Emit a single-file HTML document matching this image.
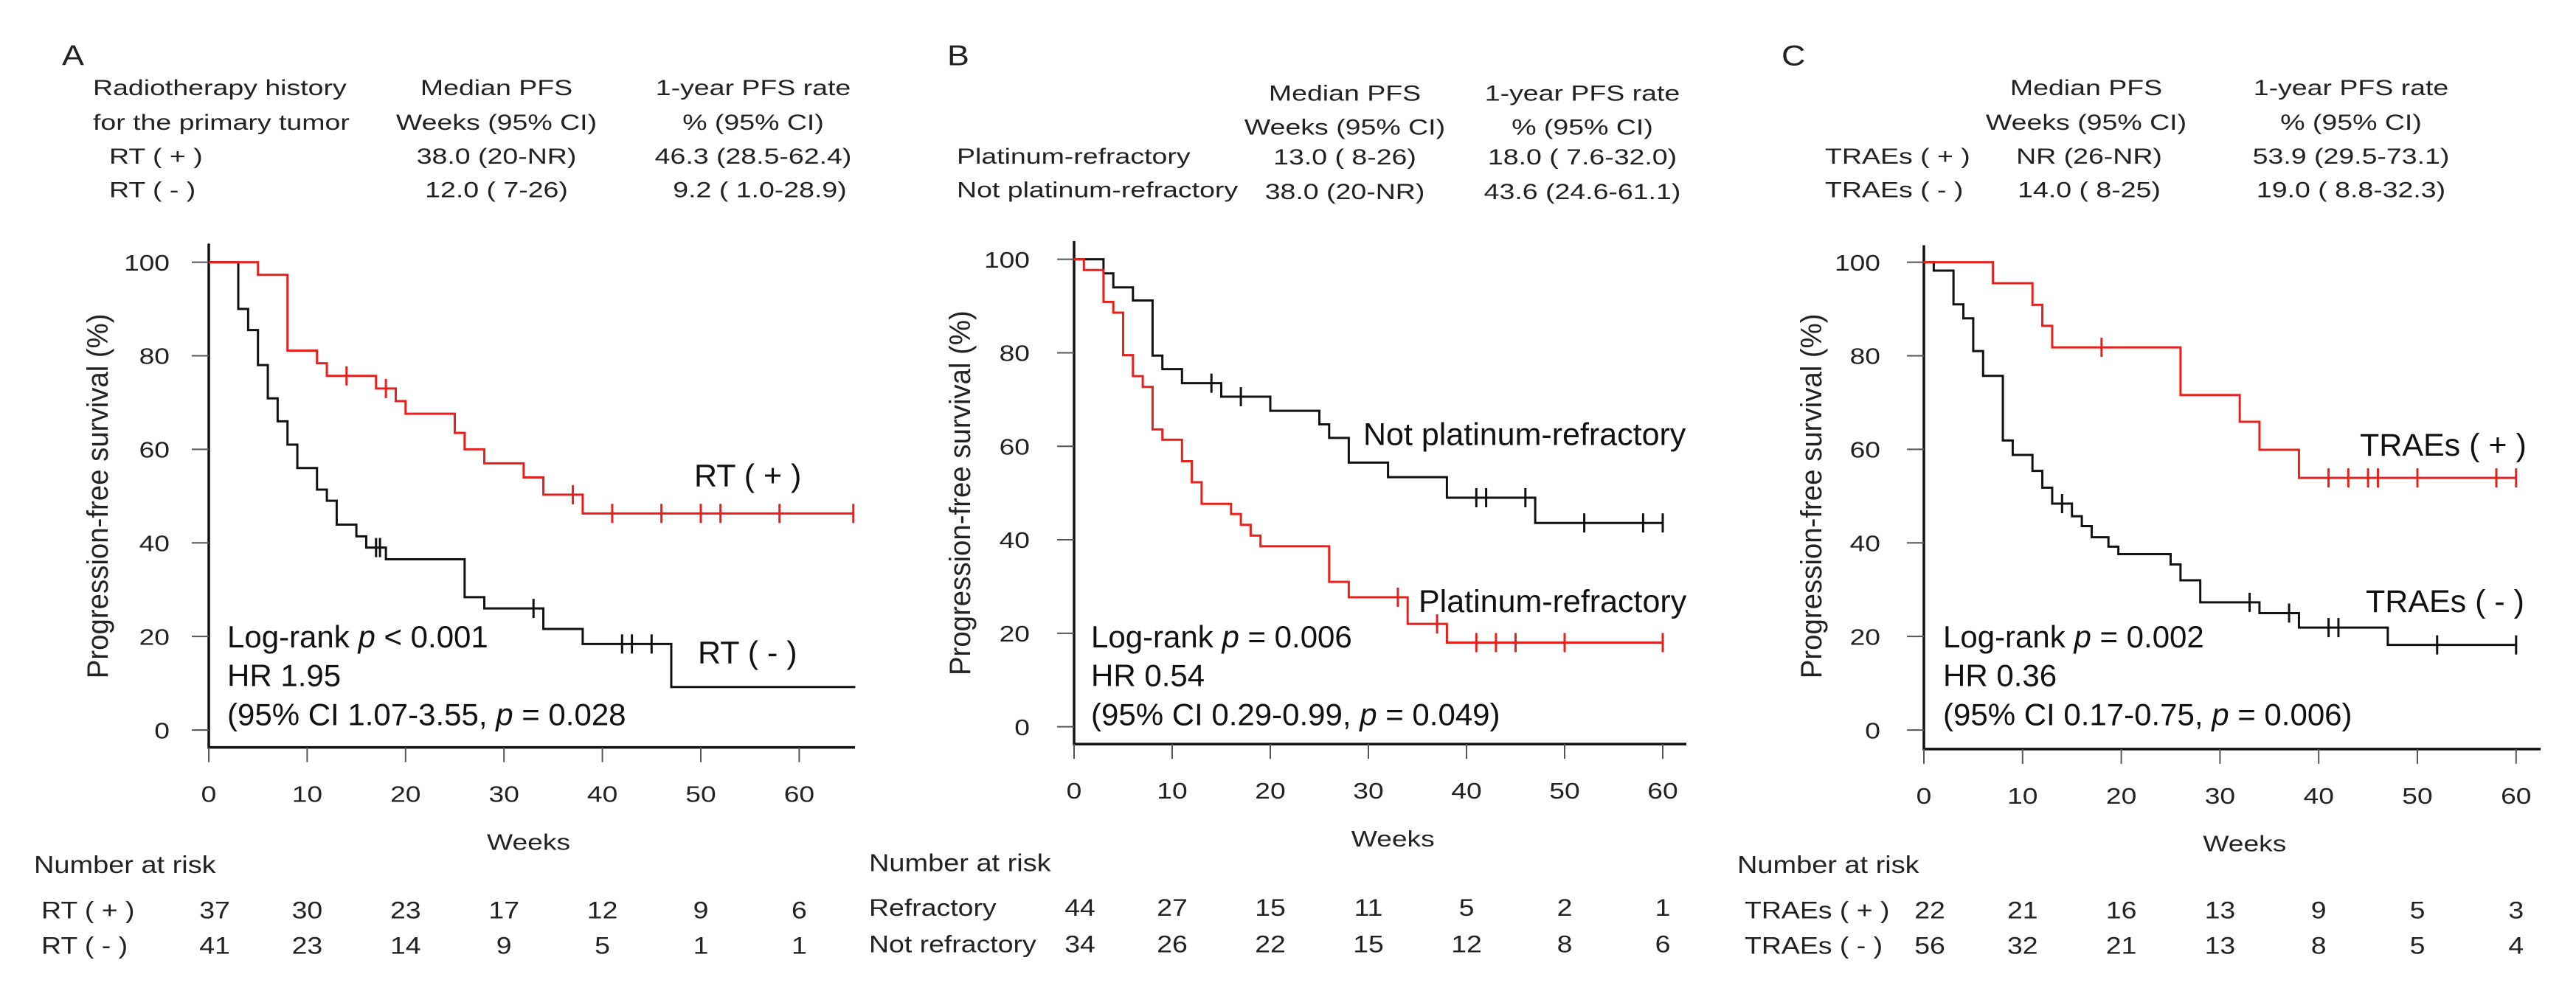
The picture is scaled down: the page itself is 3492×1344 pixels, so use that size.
<!DOCTYPE html>
<html><head><meta charset="utf-8"><style>
html,body{margin:0;padding:0;background:#fff;}
svg{display:block;font-family:"Liberation Sans",Arial,sans-serif;}
</style></head><body>
<svg id="fig" width="3492" height="1344" viewBox="0 0 3492 1344" xmlns="http://www.w3.org/2000/svg">
<g id="header"></g>
<g id="plots"></g>
</svg>
<script>
// ---- Panel A data ----
const aXTicks = [0,10,20,30,40,50,60];
const aYTicks = [0,20,40,60,80,100];
const aRedTimes = [5,8,11,12,17,19,20,25,26,28,32,34,38];
const aRedSurv  = [97.3,81.1,78.4,75.7,73.0,70.3,67.6,63.5,60.0,57.0,54.0,50.3,46.3];
const aRedCens  = [14,18,37,41,46,50,52,58,65.5];
const aBlkTimes = [3,4,5,6,7,8,9,11,12,13,15,16,18,26,28,34,38,47];
const aBlkSurv  = [90,85.5,78,70.9,66,61,56,51.4,49,43.9,41.4,39,36.5,28.4,26,21.6,18.4,9.2];
const aBlkCens  = [17,17.4,33,42,43,45];
const aRiskRed  = [37,30,23,17,12,9,6];
const aRiskBlk  = [41,23,14,9,5,1,1];
// ---- Panel B data ----
const bRedTimes = [1,3,4,5,6,7,8,9,11,12,13,16,17,18,19,26,28,34,38];
const bRedSurv  = [97.7,90.9,88.6,79.5,75,72.7,63.6,61.4,56.8,52.3,47.7,45.5,43.2,40.9,38.6,31,27.7,22,18];
const bRedCens  = [33,37,41,43,45,50,60];
const bBlkTimes = [3,4,6,8,9,11,15,20,25,26,28,32,38,47];
const bBlkSurv  = [97,94,91.2,79.4,76.5,73.5,70.6,67.6,64.7,61.8,56.5,53.4,49,43.6];
const bBlkCens  = [14,17,41,42,46,52,58,60];
const bRiskRed  = [44,27,15,11,5,2,1];
const bRiskBlk  = [34,26,22,15,12,8,6];
// ---- Panel C data ----
const cRedTimes = [7,11,12,13,26,32,34,38];
const cRedSurv  = [95.5,90.9,86.4,81.8,71.6,65.9,59.9,53.9];
const cRedCens  = [18,41,43,45,46,50,58,60];
const cBlkTimes = [1,3,4,5,6,8,9,11,12,13,15,16,17,18.7,19.7,25,26,28,34,38,47];
const cBlkSurv  = [98.2,91,88,81,75.7,61.9,58.8,55.4,51.8,48.4,45.7,43.6,41.2,39.2,37.6,35.4,32,27.3,25,21.9,18.2];
const cBlkCens  = [14,33,37,41,42,52,60];
const cRiskRed  = [22,21,16,13,9,5,3];
const cRiskBlk  = [56,32,21,13,8,5,4];

const NS='http://www.w3.org/2000/svg';
const SY=1.12;
const root=document.getElementById('plots');
const hdr=document.getElementById('header');
function mk(tag,attrs,parent,txt){const e=document.createElementNS(NS,tag);for(const k in attrs)e.setAttribute(k,attrs[k]);if(txt!==undefined)e.textContent=txt;parent.appendChild(e);return e;}
function T(parent,x,y,size,sx,str,anchor){
 return mk('text',{x:0,y:0,'font-size':size,fill:'#222','text-anchor':anchor||'start',transform:`translate(${x} ${(y*SY).toFixed(1)}) scale(${sx} 1)`},parent,str);
}

// header tables
const HS=30, HX=1.25;
const headerRows=[
 ['A',84,79,'start',39,1.15],
 ['Radiotherapy history',126,115],['for the primary tumor',126,157],['RT ( + )',148,198],['RT ( - )',148,239],
 ['Median PFS',673,115,'middle'],['Weeks (95% CI)',673,157,'middle'],['38.0 (20-NR)',673,198,'middle'],['12.0 (  7-26)',673,239,'middle'],
 ['1-year PFS rate',1021,115,'middle'],['% (95% CI)',1021,157,'middle'],['46.3 (28.5-62.4)',1021,198,'middle'],['9.2 (  1.0-28.9)',1030,239,'middle'],
 ['B',1284,79,'start',39,1.15],
 ['Platinum-refractory',1297,198],['Not platinum-refractory',1297,239],
 ['Median PFS',1823,122,'middle'],['Weeks (95% CI)',1823,163,'middle'],['13.0 (  8-26)',1823,199,'middle'],['38.0 (20-NR)',1823,241,'middle'],
 ['1-year PFS rate',2145,122,'middle'],['% (95% CI)',2145,163,'middle'],['18.0 (  7.6-32.0)',2145,199,'middle'],['43.6 (24.6-61.1)',2145,241,'middle'],
 ['C',2415,79,'start',39,1.15],
 ['TRAEs ( + )',2474,198],['TRAEs ( - )',2474,239],
 ['Median PFS',2828,115,'middle'],['Weeks (95% CI)',2828,157,'middle'],['NR (26-NR)',2832,198,'middle'],['14.0 (  8-25)',2832,239,'middle'],
 ['1-year PFS rate',3187,115,'middle'],['% (95% CI)',3187,157,'middle'],['53.9 (29.5-73.1)',3187,198,'middle'],['19.0 (  8.8-32.3)',3187,239,'middle']
];
headerRows.forEach(r=>{
 const t=T(hdr,r[1],r[2],r[4]||HS,r[5]||HX,r[0],r[3]);
 
 
});

const panels=[
 {id:'a',x0:283,pxPer10:133.4,y100:317.5,y0:884,axisY:905,axisTop:295,axisRight:1159,ylabRight:230,ytitleX:134,
  red:[aRedTimes,aRedSurv,aRedCens],blk:[aBlkTimes,aBlkSurv,aBlkCens],riskR:aRiskRed,riskB:aRiskBlk,redEnd:65.5,blkEnd:65.7,
  logX:308,stats:['Log-rank ','p',' < 0.001','HR 1.95','(95% CI 1.07-3.55, ','p',' = 0.028'],
  lab:[['RT ( + )',941,589],['RT ( - )',946,803]],nar:[46,1057],rowLab:[56,['RT ( + )','RT ( - )'],[1112,1155]]},
 {id:'b',x0:1456,pxPer10:133,y100:314,y0:880,axisY:901,axisTop:292,axisRight:2286,ylabRight:1396,ytitleX:1303,
  red:[bRedTimes,bRedSurv,bRedCens],blk:[bBlkTimes,bBlkSurv,bBlkCens],riskR:bRiskRed,riskB:bRiskBlk,redEnd:60,blkEnd:60,
  logX:1479,stats:['Log-rank ','p',' = 0.006','HR 0.54','(95% CI 0.29-0.99, ','p',' = 0.049)'],
  lab:[['Not platinum-refractory',1848,539],['Platinum-refractory',1923,741]],nar:[1178,1055],rowLab:[1178,['Refractory','Not refractory'],[1109,1153]]},
 {id:'c',x0:2608,pxPer10:133.8,y100:317.5,y0:884,axisY:907,axisTop:297,axisRight:3444,ylabRight:2549,ytitleX:2457,
  red:[cRedTimes,cRedSurv,cRedCens],blk:[cBlkTimes,cBlkSurv,cBlkCens],riskR:cRiskRed,riskB:cRiskBlk,redEnd:60,blkEnd:60,
  logX:2634,stats:['Log-rank ','p',' = 0.002','HR 0.36','(95% CI 0.17-0.75, ','p',' = 0.006)'],
  lab:[['TRAEs ( + )',3199,552],['TRAEs ( - )',3207,741]],nar:[2355,1057],rowLab:[2365,['TRAEs ( + )','TRAEs ( - )'],[1112,1155]]}
];

function survAt(times,surv,t){let s=100;for(let i=0;i<times.length;i++){if(times[i]<=t)s=surv[i];}return s;}

panels.forEach(p=>{
 const xs=t=>p.x0+t*p.pxPer10/10;
 const ys=v=>(p.y0-(p.y0-p.y100)*v/100)*SY;
 const AY=p.axisY*SY;
 const g=mk('g',{},root);
 
 
 const ax=mk('path',{d:`M${p.x0},${p.axisTop*SY} V${AY} H${p.axisRight}`,stroke:'#111',fill:'none','stroke-width':3.5},g);
 
 
 aYTicks.forEach(v=>{
  const t=mk('line',{x1:p.x0-23,x2:p.x0,y1:ys(v),y2:ys(v),stroke:'#555','stroke-width':2},g);
  
  
  const l=T(g,p.ylabRight,ys(v)/SY+10,31,1.2,String(v),'end');
  
  
 });
 aXTicks.forEach(v=>{
  const t=mk('line',{x1:xs(v),x2:xs(v),y1:AY,y2:AY+20,stroke:'#555','stroke-width':2},g);
  
  
  const l=T(g,xs(v),p.axisY+66,31,1.2,String(v),'middle');
  
  
 });
 const xt=T(g,p.x0+p.pxPer10*3.25,p.axisY+124,31,1.2,'Weeks','middle');
 
 
 const yc=(p.y0+p.y100)/2*SY;
 const yt=mk('text',{x:0,y:0,'font-size':32,'text-anchor':'middle',fill:'#222',transform:`translate(${p.ytitleX+12} ${yc}) rotate(-90) scale(1.2 1.25)`},g,'Progression-free survival (%)');
 
 
 [[p.blk,'#111',p.blkEnd,'curve-black'],[p.red,'#e8201c',p.redEnd,'curve-red']].forEach(([d,col,end,nm])=>{
  const [times,surv,cens]=d;
  let path=`M${xs(0)},${ys(100)}`;
  for(let i=0;i<times.length;i++){path+=` H${xs(times[i])} V${ys(surv[i])}`;}
  path+=` H${xs(end)}`;
  const c=mk('path',{d:path,stroke:col,fill:'none','stroke-width':3},g);
  
  
  cens.forEach(t=>{
   const s=survAt(times,surv,t);
   const m=mk('line',{x1:xs(t),x2:xs(t),y1:ys(s)-13,y2:ys(s)+13,stroke:col,'stroke-width':3},g);
   
   
  });
 });
 p.lab.forEach(([txt,x,y])=>{
  const l=T(g,x,y,43,1.0,txt);
  l.setAttribute('fill','#111');
  
  
 });
 const st=T(g,p.logX,784,42,1.0,'');
 st.setAttribute('fill','#111');
 
 
 mk('tspan',{},st,p.stats[0]);mk('tspan',{'font-style':'italic'},st,p.stats[1]);mk('tspan',{},st,p.stats[2]);
 const hr=T(g,p.logX,831,42,1.0,p.stats[3]);
 hr.setAttribute('fill','#111');
 
 
 const ci=T(g,p.logX,878,42,1.0,'');
 ci.setAttribute('fill','#111');
 
 
 mk('tspan',{},ci,p.stats[4]);mk('tspan',{'font-style':'italic'},ci,p.stats[5]);mk('tspan',{},ci,p.stats[6]);
 const n=T(g,p.nar[0],p.nar[1],33,1.15,'Number at risk');
 
 
 [p.riskR,p.riskB].forEach((arr,ri)=>{
  const yy=p.rowLab[2][ri];
  const rl=T(g,p.rowLab[0],yy,32,1.17,p.rowLab[1][ri]);
  
  
  arr.forEach((v,i)=>{
   const t=T(g,xs(aXTicks[i])+(i===0?8:0),yy,32,1.17,String(v),'middle');
   
   
  });
 });
});
</script>
</body></html>
